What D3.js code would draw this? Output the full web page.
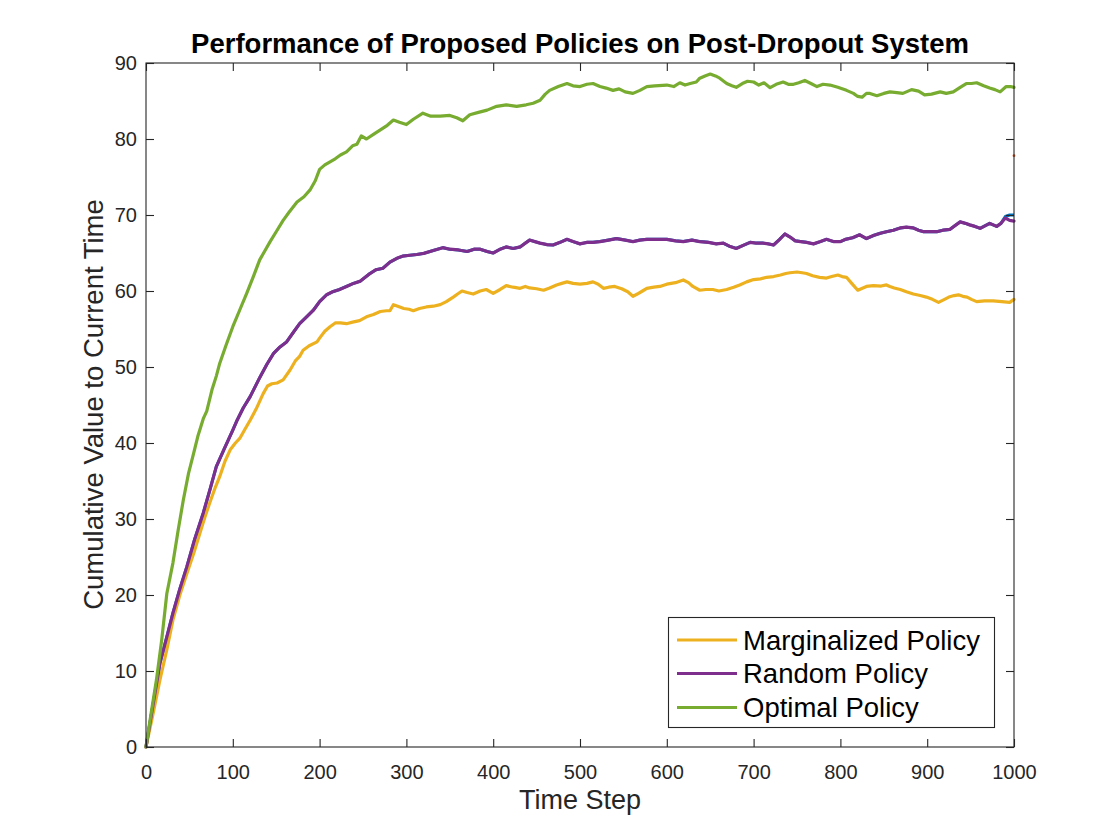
<!DOCTYPE html>
<html>
<head>
<meta charset="utf-8">
<script src="https://d3js.org/d3.v7.min.js"></script>
<style>
  html, body { margin: 0; padding: 0; background: #ffffff; }
  svg { display: block; font-family: "Liberation Sans", Arial, Helvetica, sans-serif; }
</style>
</head>
<body>
<svg id="chart" width="1120" height="840"></svg>
<script>
// ---- data (time step, cumulative value) ----
const titleText = "Performance of Proposed Policies on Post-Dropout System";
const xLabelText = "Time Step";
const yLabelText = "Cumulative Value to Current Time";
const xTicks = [0, 100, 200, 300, 400, 500, 600, 700, 800, 900, 1000];
const yTicks = [0, 10, 20, 30, 40, 50, 60, 70, 80, 90];
const seriesNames = ["Marginalized Policy", "Random Policy", "Optimal Policy"];

const marginalized = [[0,0],[8,4.3],[16,8.8],[24,12.8],[31,16.7],[39,20],[47,22.8],[55,25.5],[62,28.1],[68,30.3],[74,32.3],[80,34.2],[85,35.6],[91,37.6],[97,39.1],[103,40.0],[108,40.6],[114,41.8],[120,43.0],[127,44.5],[135,46.5],[140,47.5],[145,47.8],[151,47.9],[158,48.3],[166,49.6],[172,50.8],[177,51.4],[181,52.2],[188,52.8],[197,53.3],[200,53.8],[206,54.7],[212,55.3],[218,55.8],[224,55.8],[231,55.7],[238,55.9],[246,56.1],[254,56.6],[262,56.9],[270,57.3],[277,57.4],[281,57.4],[285,58.2],[290,58.0],[297,57.7],[303,57.6],[308,57.4],[315,57.7],[323,57.9],[331,58.0],[339,58.2],[346,58.6],[354,59.2],[359,59.6],[364,60.0],[370,59.8],[377,59.6],[385,60.0],[392,60.2],[400,59.7],[408,60.2],[415,60.7],[423,60.5],[431,60.35],[437,60.6],[442,60.4],[450,60.3],[458,60.1],[465,60.4],[473,60.8],[479,61.0],[485,61.2],[492,61.0],[500,60.9],[508,61.0],[515,61.2],[521,60.9],[527,60.35],[533,60.5],[540,60.6],[548,60.3],[555,59.9],[561,59.3],[566,59.6],[572,60.0],[577,60.35],[585,60.5],[592,60.6],[600,60.9],[610,61.1],[619,61.45],[625,61.1],[630,60.6],[638,60.1],[645,60.2],[653,60.2],[660,60.0],[669,60.2],[677,60.5],[684,60.8],[692,61.2],[700,61.5],[708,61.6],[715,61.8],[723,61.9],[731,62.1],[737,62.3],[742,62.4],[750,62.5],[756,62.4],[761,62.3],[768,62.0],[776,61.8],[784,61.7],[790,61.9],[797,62.1],[802,61.9],[807,61.8],[813,61.0],[820,60.1],[826,60.4],[830,60.6],[838,60.7],[847,60.65],[853,60.8],[857,60.6],[862,60.4],[869,60.2],[876,59.9],[884,59.6],[892,59.4],[899,59.2],[906,58.9],[913,58.5],[920,58.9],[926,59.25],[931,59.4],[936,59.5],[941,59.3],[946,59.2],[951,58.9],[957,58.6],[966,58.7],[976,58.7],[986,58.6],[995,58.5],[1000,58.9]];

const randomPolicy = [[0,0],[8,5.5],[16,11.0],[24,14.5],[31,17.6],[39,20.8],[47,23.7],[56,27.3],[66,30.8],[74,34],[81,36.9],[90,39.2],[100,41.7],[105,43.0],[112,44.6],[120,46.1],[131,48.6],[139,50.3],[147,51.8],[154,52.6],[162,53.3],[170,54.6],[177,55.7],[185,56.6],[193,57.5],[200,58.6],[208,59.5],[215,59.9],[223,60.2],[231,60.6],[239,61.0],[247,61.3],[258,62.3],[265,62.8],[273,63.0],[281,63.8],[289,64.3],[296,64.6],[304,64.7],[312,64.8],[320,64.95],[330,65.3],[342,65.7],[350,65.5],[360,65.4],[370,65.2],[378,65.5],[385,65.5],[393,65.2],[400,65.0],[408,65.5],[415,65.8],[423,65.6],[431,65.8],[437,66.3],[442,66.7],[448,66.5],[454,66.3],[462,66.1],[469,66.05],[477,66.4],[485,66.8],[492,66.5],[500,66.2],[508,66.4],[515,66.4],[523,66.5],[533,66.7],[542,66.9],[552,66.7],[561,66.5],[569,66.7],[577,66.8],[588,66.8],[600,66.8],[610,66.6],[619,66.5],[629,66.7],[638,66.5],[648,66.4],[657,66.2],[665,66.3],[672,65.9],[680,65.6],[688,66.0],[696,66.4],[703,66.3],[711,66.3],[717,66.2],[723,66.05],[730,66.8],[736,67.5],[742,67.1],[748,66.6],[754,66.5],[761,66.4],[769,66.2],[777,66.5],[784,66.8],[792,66.5],[800,66.5],[806,66.8],[814,67.0],[822,67.4],[830,66.9],[838,67.3],[846,67.6],[853,67.8],[861,68.0],[869,68.3],[876,68.4],[884,68.3],[890,68.0],[896,67.8],[903,67.8],[911,67.8],[918,68.0],[926,68.1],[932,68.6],[938,69.1],[944,68.9],[949,68.7],[955,68.5],[961,68.25],[967,68.6],[972,68.9],[980,68.5],[985,68.9],[990,69.6],[995,69.3],[1000,69.2]];

// hidden series underneath the purple one (only visible at the very end)
const hiddenBlueTail = [[985,68.9],[990,69.8],[995,70.0],[1000,70.0]];
const hiddenOrangeEnd = [[1000,77.8]];

const optimal = [[0,0],[6,4.5],[12,8.8],[18,14],[24,20.2],[31,24.2],[37,28.5],[43,32.5],[49,36],[55,38.7],[60,41],[66,43.2],[70,44.2],[76,47],[81,48.8],[85,50.5],[92,52.8],[100,55.3],[108,57.5],[116,59.7],[124,62],[131,64.1],[137,65.3],[143,66.5],[150,67.8],[158,69.3],[165,70.4],[174,71.7],[182,72.4],[189,73.3],[195,74.5],[200,76.0],[206,76.6],[212,77.0],[218,77.4],[224,77.9],[231,78.3],[238,79.1],[243,79.3],[248,80.4],[254,80.0],[262,80.6],[270,81.2],[278,81.8],[285,82.5],[292,82.2],[300,81.9],[308,82.6],[319,83.4],[328,83.0],[339,83.0],[350,83.1],[358,82.8],[365,82.4],[373,83.2],[383,83.5],[393,83.8],[404,84.3],[415,84.5],[427,84.3],[438,84.5],[446,84.7],[454,85.1],[460,85.9],[465,86.4],[475,86.9],[485,87.3],[492,87.0],[500,86.9],[508,87.2],[515,87.3],[523,86.9],[530,86.7],[538,86.4],[545,86.6],[552,86.2],[561,86.0],[569,86.4],[577,86.9],[586,87.0],[600,87.1],[608,86.9],[615,87.4],[621,87.1],[627,87.3],[634,87.5],[638,88.0],[644,88.3],[650,88.55],[656,88.3],[661,88.0],[669,87.3],[675,87.0],[680,86.8],[687,87.3],[693,87.6],[700,87.5],[706,87.1],[712,87.4],[719,86.75],[726,87.2],[734,87.5],[740,87.2],[746,87.2],[752,87.4],[759,87.7],[766,87.3],[773,86.9],[780,87.2],[788,87.1],[797,86.8],[807,86.4],[815,86.0],[820,85.6],[825,85.5],[830,86.0],[834,86.0],[842,85.7],[850,86.0],[857,86.2],[865,86.1],[872,86.0],[878,86.3],[882,86.5],[890,86.3],[897,85.8],[905,85.9],[915,86.2],[922,86.0],[930,86.2],[938,86.8],[945,87.3],[951,87.3],[957,87.4],[965,87.0],[972,86.7],[978,86.5],[984,86.2],[991,86.9],[996,86.9],[1000,86.8]];

const seriesColors = ["#EDB120", "#7E2F8E", "#77AC30"];
const hiddenColors = ["#0072BD", "#D95319"];

(function draw() {
  const svg = d3.select("#chart");
  const pLeft = 146, pRight = 1014, pTop = 63, pBottom = 747;
  const axisColor = "#262626";

  const x = d3.scaleLinear().domain([0, 1000]).range([pLeft, pRight]);
  const y = d3.scaleLinear().domain([0, 90]).range([pBottom, pTop]);

  svg.append("rect").attr("x", 0).attr("y", 0).attr("width", 1120).attr("height", 840).attr("fill", "#ffffff");

  svg.append("clipPath").attr("id", "plotclip")
    .append("rect").attr("x", pLeft - 2).attr("y", pTop - 2).attr("width", pRight - pLeft + 4).attr("height", pBottom - pTop + 4);

  const line = d3.line().x(d => x(d[0])).y(d => y(d[1]));
  const plot = svg.append("g").attr("clip-path", "url(#plotclip)");

  // hidden blue series (drawn first, under the purple one)
  plot.append("path").datum(randomPolicy.filter(d => d[0] < 985).concat(hiddenBlueTail))
    .attr("d", line).attr("fill", "none").attr("stroke", hiddenColors[0]).attr("stroke-width", 3)
    .attr("stroke-linejoin", "round");

  const allSeries = [marginalized, randomPolicy, optimal];
  allSeries.forEach((s, i) => {
    plot.append("path").datum(s).attr("d", line)
      .attr("fill", "none").attr("stroke", seriesColors[i]).attr("stroke-width", 3.2)
      .attr("stroke-linejoin", "round").attr("stroke-linecap", "round");
  });

  plot.selectAll("circle.orange").data(hiddenOrangeEnd).enter().append("circle")
    .attr("class", "orange")
    .attr("cx", d => x(d[0])).attr("cy", d => y(d[1])).attr("r", 1.4).attr("fill", hiddenColors[1]);

  // ---- axes (MATLAB style, inward ticks, box) ----
  const tickLen = 8;
  const axB = d3.axisBottom(x).tickValues(xTicks).tickSize(-tickLen).tickPadding(18).tickFormat(d3.format("d"));
  const axT = d3.axisTop(x).tickValues(xTicks).tickSize(-tickLen).tickFormat("");
  const axL = d3.axisLeft(y).tickValues(yTicks).tickSize(-tickLen).tickPadding(9).tickFormat(d3.format("d"));
  const axR = d3.axisRight(y).tickValues(yTicks).tickSize(-tickLen).tickFormat("");

  function styleAxis(g) {
    g.select(".domain").remove();
    g.selectAll(".tick line").attr("stroke", axisColor).attr("stroke-width", 1.1);
    g.selectAll(".tick text").attr("fill", axisColor).attr("font-size", 20)
      .attr("font-family", "'Liberation Sans', Arial, Helvetica, sans-serif");
  }
  svg.append("g").attr("transform", `translate(0,${pBottom})`).call(axB).call(styleAxis);
  svg.append("g").attr("transform", `translate(0,${pTop})`).call(axT).call(styleAxis);
  svg.append("g").attr("transform", `translate(${pLeft},0)`).call(axL).call(styleAxis);
  svg.append("g").attr("transform", `translate(${pRight},0)`).call(axR).call(styleAxis);
  svg.append("rect").attr("x", pLeft).attr("y", pTop).attr("width", pRight - pLeft).attr("height", pBottom - pTop)
    .attr("fill", "none").attr("stroke", axisColor).attr("stroke-width", 1.1);

  // ---- title & labels ----
  svg.append("text").attr("x", (pLeft + pRight) / 2).attr("y", 53).attr("text-anchor", "middle")
    .attr("font-size", 27.5).attr("font-weight", "bold").attr("fill", "#000").text(titleText);
  svg.append("text").attr("x", (pLeft + pRight) / 2).attr("y", 809).attr("text-anchor", "middle")
    .attr("font-size", 27).attr("fill", axisColor).text(xLabelText);
  svg.append("text").attr("transform", `translate(103,${(194 + 615) / 2}) rotate(-90)`).attr("text-anchor", "middle")
    .attr("font-size", 27.5).attr("fill", axisColor).text(yLabelText);

  // ---- legend ----
  const lg = svg.append("g");
  lg.append("rect").attr("x", 668.5).attr("y", 617.5).attr("width", 326).attr("height", 110)
    .attr("fill", "#ffffff").attr("stroke", axisColor).attr("stroke-width", 1.1);
  const rowY = [640, 673.5, 707.5];
  seriesNames.forEach((name, i) => {
    lg.append("line").attr("x1", 677).attr("x2", 737).attr("y1", rowY[i]).attr("y2", rowY[i])
      .attr("stroke", seriesColors[i]).attr("stroke-width", 3.2);
    lg.append("text").attr("x", 743).attr("y", rowY[i]).attr("dy", "0.36em")
      .attr("font-size", 27.5).attr("fill", "#000").text(name);
  });
})();
</script>
</body>
</html>
